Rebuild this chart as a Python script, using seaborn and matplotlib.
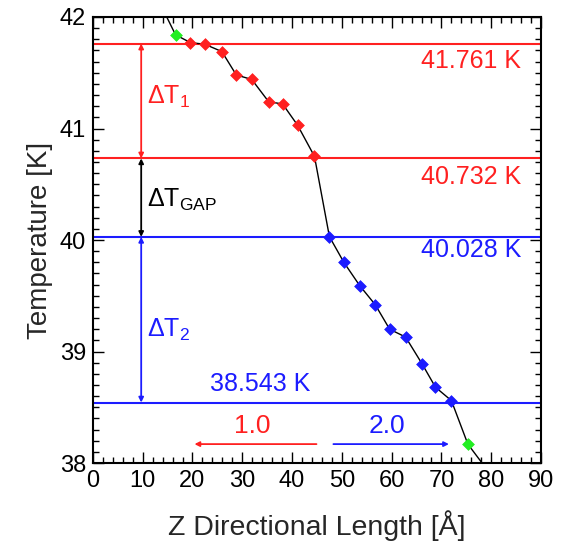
import matplotlib
matplotlib.use("Agg")
import matplotlib.pyplot as plt
import seaborn as sns
import pandas as pd
from matplotlib.ticker import MultipleLocator

# Temperature profile along the Z direction
z_curve = [13.5, 16.6, 19.6, 22.5, 25.9, 28.8, 31.9, 35.3, 38.1, 41.1, 44.5,
           47.5, 50.4, 53.6, 56.7, 59.6, 62.8, 66.1, 68.8, 72.0, 75.3, 79.0]
t_curve = [42.12, 41.84, 41.77, 41.755, 41.69, 41.48, 41.44, 41.24, 41.22, 41.03, 40.75,
           40.03, 39.80, 39.59, 39.42, 39.20, 39.13, 38.89, 38.68, 38.56, 38.17, 37.95]

# Marker groups: first phase (red), second phase (blue), ends (green)
z_red = [19.6, 22.5, 25.9, 28.8, 31.9, 35.3, 38.1, 41.1, 44.5]
t_red = [41.77, 41.755, 41.69, 41.48, 41.44, 41.24, 41.22, 41.03, 40.75]
z_blue = [47.5, 50.4, 53.6, 56.7, 59.6, 62.8, 66.1, 68.8, 72.0]
t_blue = [40.03, 39.80, 39.59, 39.42, 39.20, 39.13, 38.89, 38.68, 38.56]
z_green = [16.6, 75.3]
t_green = [41.84, 38.17]

# Reference temperature levels
levels_red = [41.761, 40.732]
levels_blue = [40.028, 38.543]

# Lengths of the two regions
len_red = 1.0
len_blue = 2.0

RED = "#ff2020"
BLUE = "#1c1cff"
GREEN = "#22ee22"

sns.set_theme(style="white")
plt.rcParams["font.family"] = ["Liberation Sans", "DejaVu Sans"]

fig = plt.figure(figsize=(5.63, 5.48), dpi=100)
ax = fig.add_axes([0.165, 0.155, 0.796, 0.814])

curve = pd.DataFrame({"z": z_curve, "T": t_curve})
sns.lineplot(data=curve, x="z", y="T", sort=False, color="black", lw=1.0, ax=ax, zorder=3)

for zs, ts, c in [(z_red, t_red, RED), (z_blue, t_blue, BLUE), (z_green, t_green, GREEN)]:
    sns.scatterplot(x=zs, y=ts, color=c, marker="D", s=36, edgecolor=c, linewidth=0.5,
                    ax=ax, zorder=4)

for lv in levels_red:
    ax.axhline(lv, color=RED, lw=1.5, zorder=2)
for lv in levels_blue:
    ax.axhline(lv, color=BLUE, lw=1.5, zorder=2)

fs = 18
ax.text(86.0, levels_red[0] - 0.16, f"{levels_red[0]:.3f} K", color=RED, fontsize=fs,
        ha="right", va="center")
ax.text(86.0, levels_red[1] - 0.17, f"{levels_red[1]:.3f} K", color=RED, fontsize=fs,
        ha="right", va="center")
ax.text(86.0, levels_blue[0] - 0.12, f"{levels_blue[0]:.3f} K", color=BLUE, fontsize=fs,
        ha="right", va="center")
ax.text(23.5, levels_blue[1] + 0.17, f"{levels_blue[1]:.3f} K", color=BLUE, fontsize=fs,
        ha="left", va="center")

# Vertical interval arrows
xa = 9.7
arrow_kw = dict(arrowstyle="<|-|>", mutation_scale=7, lw=1.3, shrinkA=0, shrinkB=0)
ax.annotate("", xy=(xa, levels_red[0]), xytext=(xa, levels_red[1]),
            arrowprops=dict(color=RED, **arrow_kw))
ax.annotate("", xy=(xa, levels_red[1]), xytext=(xa, levels_blue[0]),
            arrowprops=dict(color="black", **arrow_kw))
ax.annotate("", xy=(xa, levels_blue[0]), xytext=(xa, levels_blue[1]),
            arrowprops=dict(color=BLUE, **arrow_kw))

ax.text(10.9, 41.28, r"$\mathregular{\Delta T_1}$", color=RED, fontsize=18, ha="left", va="center")
ax.text(10.9, 40.36, r"$\mathregular{\Delta T_{GAP}}$", color="black", fontsize=18, ha="left", va="center")
ax.text(10.9, 39.19, r"$\mathregular{\Delta T_2}$", color=BLUE, fontsize=18, ha="left", va="center")

# Horizontal length arrows
ya = 38.17
harrow = dict(arrowstyle="-|>", mutation_scale=7, lw=1.3, shrinkA=0, shrinkB=0)
ax.annotate("", xy=(20.4, ya), xytext=(44.9, ya), arrowprops=dict(color=RED, **harrow))
ax.annotate("", xy=(71.5, ya), xytext=(48.3, ya), arrowprops=dict(color=BLUE, **harrow))
ax.text(32.0, 38.33, f"{len_red:.1f}", color=RED, fontsize=19, ha="center", va="center")
ax.text(59.0, 38.33, f"{len_blue:.1f}", color=BLUE, fontsize=19, ha="center", va="center")

ax.set_xlim(0, 90)
ax.set_ylim(38, 42)
ax.xaxis.set_major_locator(MultipleLocator(10))
ax.xaxis.set_minor_locator(MultipleLocator(2))
ax.yaxis.set_major_locator(MultipleLocator(1))
ax.yaxis.set_minor_locator(MultipleLocator(0.1))
ax.tick_params(which="both", direction="in", top=True, right=True, bottom=True, left=True,
               colors="black", labelsize=17, width=1.0)
ax.tick_params(which="major", length=8, pad=5)
ax.tick_params(which="minor", length=4)
for sp in ax.spines.values():
    sp.set_color("black")
    sp.set_linewidth(1.5)

ax.set_xlabel("Z Directional Length [Å]", fontsize=20.5, labelpad=13)
ax.set_ylabel("Temperature [K]", fontsize=20, labelpad=5)

fig.savefig("out.png", dpi=100, facecolor="white")
